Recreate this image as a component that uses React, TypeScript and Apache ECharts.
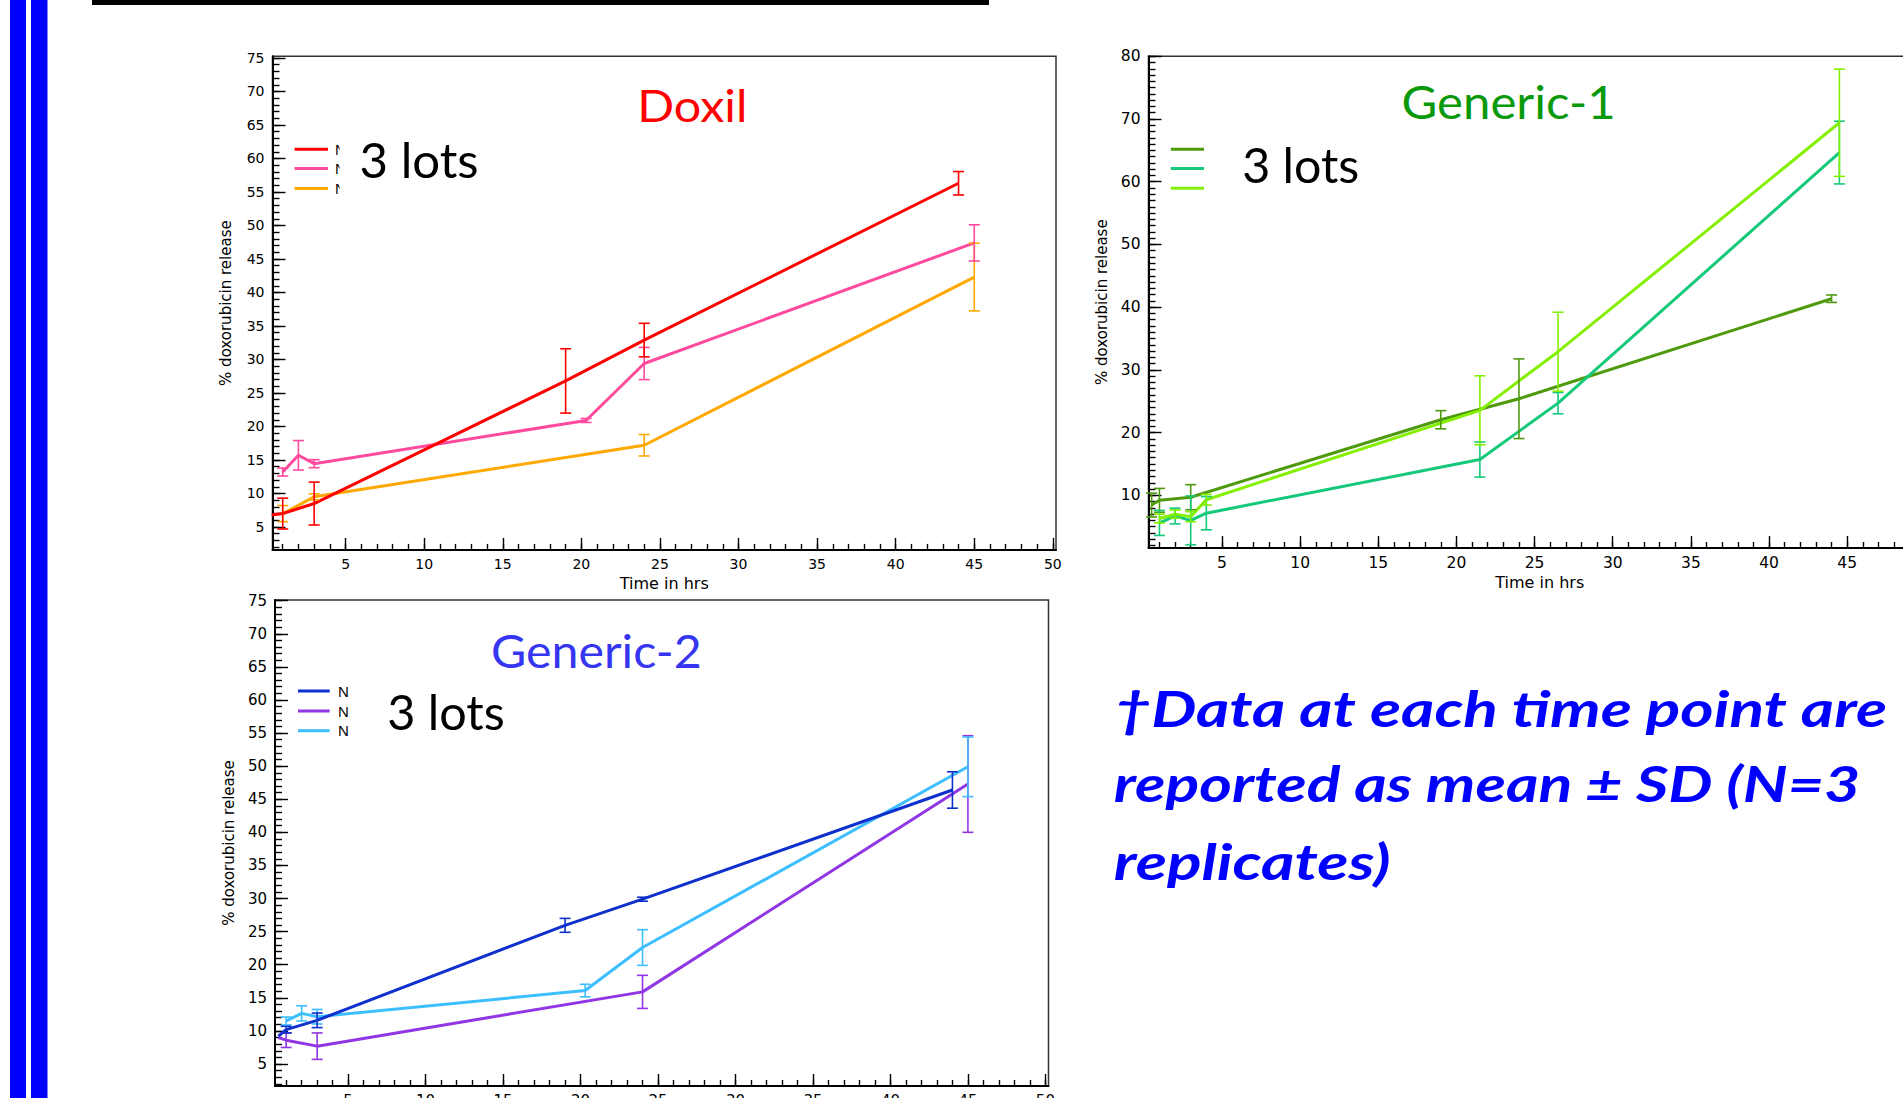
import React, { useEffect, useRef } from "react";
import * as echarts from "echarts";

// ---------------- Data (time in hrs, mean % release, SD) ----------------
// Doxil, 3 lots
const doxLot1T = [0.3, 1, 3, 19, 24, 44];
const doxLot1M = [6.8, 7.0, 8.5, 26.8, 32.9, 56.3];
const doxLot1SD = [0, 2.3, 3.2, 4.8, 2.5, 1.75];
const doxLot2T = [1, 2, 3, 20.3, 24, 45];
const doxLot2M = [13.2, 15.7, 14.45, 20.9, 29.4, 47.4];
const doxLot2SD = [0.6, 2.2, 0.6, 0.3, 2.4, 2.7];
const doxLot3T = [1, 3, 24, 45];
const doxLot3M = [7.0, 9.5, 17.2, 42.3];
const doxLot3SD = [1.2, 0.45, 1.6, 5.05];

// Generic-1, 3 lots
const g1Lot1T = [0.5, 1, 3, 19, 24, 44];
const g1Lot1M = [8.45, 9.2, 9.7, 22.05, 25.4, 41.35];
const g1Lot1SD = [1.9, 1.9, 2.0, 1.45, 6.35, 0.6];
const g1Lot2T = [1, 2, 3, 4, 21.5, 26.5, 44.5];
const g1Lot2M = [5.6, 6.7, 6.0, 7.15, 15.7, 24.7, 64.65];
const g1Lot2SD = [2.0, 1.25, 3.9, 2.65, 2.8, 1.7, 5.0];
const g1Lot3T = [1, 2, 3, 4, 21.5, 26.5, 44.5];
const g1Lot3M = [6.3, 7.0, 6.6, 9.3, 23.55, 32.9, 69.4];
const g1Lot3SD = [0.7, 0.65, 0.8, 0.85, 5.5, 6.3, 8.55];

// Generic-2, 3 lots
const g2Lot1T = [0.5, 1, 3, 19, 24, 44];
const g2Lot1M = [9.2, 10.2, 11.6, 25.95, 29.9, 46.4];
const g2Lot1SD = [0, 0.5, 1.1, 1.05, 0.3, 2.75];
const g2Lot2T = [0.5, 1, 3, 24, 45];
const g2Lot2M = [9.0, 8.6, 7.7, 15.9, 47.3];
const g2Lot2SD = [0, 1.1, 2.0, 2.5, 7.3];
const g2Lot3T = [1, 2, 3, 20.3, 24, 45];
const g2Lot3M = [11.5, 12.65, 12.15, 16.1, 22.6, 49.9];
const g2Lot3SD = [0.6, 1.15, 1.1, 0.95, 2.7, 4.5];

// Tick labels
const xTickLabels = [5, 10, 15, 20, 25, 30, 35, 40, 45, 50];
const doxYTickLabels = [5, 10, 15, 20, 25, 30, 35, 40, 45, 50, 55, 60, 65, 70, 75];
const g1YTickLabels = [10, 20, 30, 40, 50, 60, 70, 80];
const g2YTickLabels = [5, 10, 15, 20, 25, 30, 35, 40, 45, 50, 55, 60, 65, 70, 75];

// Texts
const titles = ["Doxil", "Generic-1", "Generic-2"];
const lotsText = "3 lots";
const xName = "Time in hrs";
const yName = "% doxorubicin release";
const legendStub = "N";
const noteLines = ["†Data at each time point are", "reported as mean ± SD (N=3", "replicates)"];

// ---------------- Styles ----------------
const AXIS_FONT = "'DejaVu Sans', sans-serif";
const C = {
  red: "#FF0000",
  pink: "#FF4A9E",
  orange: "#FFA800",
  dkGreen: "#4E9A0C",
  teal: "#14C97A",
  ltGreen: "#84F000",
  dkBlue: "#0E30CC",
  purple: "#9036E4",
  ltBlue: "#3CBEFF",
};

function intRange(a: number, b: number) {
  const r: number[] = [];
  for (let v = Math.ceil(a); v <= Math.floor(b); v++) r.push(v);
  return r;
}

function makeXAxes(gridIndex: number, min: number, max: number, labels: number[], fontSize: number, margin: number) {
  const tickStyle = { color: "#000", width: 1.4 };
  return [
    {
      type: "value", gridIndex, min, max, position: "bottom",
      axisLine: { show: true, onZero: false, lineStyle: { color: "#000", width: 2 } },
      axisTick: { show: true, inside: true, length: 6, customValues: intRange(min, max), lineStyle: tickStyle },
      axisLabel: { show: false }, splitLine: { show: false },
    },
    {
      type: "value", gridIndex, min, max, position: "bottom",
      axisLine: { show: false, onZero: false },
      axisTick: { show: true, inside: true, length: 12, customValues: labels, lineStyle: tickStyle },
      axisLabel: { show: true, customValues: labels, margin, fontSize, fontFamily: AXIS_FONT, color: "#000" },
      splitLine: { show: false },
      name: xName, nameLocation: "middle", nameGap: 26,
      nameTextStyle: { fontFamily: AXIS_FONT, fontSize: 16, color: "#000" },
    },
  ];
}

function makeYAxes(gridIndex: number, min: number, max: number, labels: number[], fontSize: number) {
  const tickStyle = { color: "#000", width: 1.4 };
  return [
    {
      type: "value", gridIndex, min, max, position: "left",
      axisLine: { show: true, onZero: false, lineStyle: { color: "#000", width: 2 } },
      axisTick: { show: true, inside: true, length: 7, customValues: intRange(min, max), lineStyle: tickStyle },
      axisLabel: { show: false }, splitLine: { show: false },
    },
    {
      type: "value", gridIndex, min, max, position: "left",
      axisLine: { show: false, onZero: false },
      axisTick: { show: true, inside: true, length: 13, customValues: labels, lineStyle: tickStyle },
      axisLabel: { show: true, customValues: labels, margin: 8, fontSize, fontFamily: AXIS_FONT, color: "#000" },
      splitLine: { show: false },
      name: yName, nameLocation: "middle", nameGap: 39,
      nameTextStyle: { fontFamily: AXIS_FONT, fontSize: 15, color: "#000" },
    },
  ];
}

function lineSeries(g: number, t: number[], m: number[], color: string) {
  return {
    type: "line", xAxisIndex: 2 * g, yAxisIndex: 2 * g,
    data: t.map((x, i) => [x, m[i]]),
    symbol: "none", silent: true, z: 3,
    lineStyle: { color, width: 3 }, itemStyle: { color },
  };
}

function errorSeries(g: number, t: number[], m: number[], sd: number[], color: string) {
  const data = t.map((x, i) => [x, m[i] - sd[i], m[i] + sd[i], sd[i]]).filter((d) => d[3] > 0);
  return {
    type: "custom", xAxisIndex: 2 * g, yAxisIndex: 2 * g, silent: true, z: 4,
    encode: { x: 0, y: [1, 2] },
    data,
    renderItem: (params: any, api: any) => {
      const x = api.value(0);
      const lo = api.coord([x, api.value(1)]);
      const hi = api.coord([x, api.value(2)]);
      const hw = 5.5;
      const st = { stroke: color, lineWidth: 1.6 };
      return {
        type: "group",
        children: [
          { type: "line", shape: { x1: hi[0], y1: hi[1], x2: lo[0], y2: lo[1] }, style: st },
          { type: "line", shape: { x1: hi[0] - hw, y1: hi[1], x2: hi[0] + hw, y2: hi[1] }, style: st },
          { type: "line", shape: { x1: lo[0] - hw, y1: lo[1], x2: lo[0] + hw, y2: lo[1] }, style: st },
        ],
      };
    },
  };
}

let measureCtx: CanvasRenderingContext2D | null = null;
function fitLeft(text: string, font: string, inkLeft: number, inkWidth: number) {
  try {
    if (!measureCtx) measureCtx = document.createElement("canvas").getContext("2d");
    if (measureCtx) {
      measureCtx.font = font;
      const mt = measureCtx.measureText(text);
      const l = mt.actualBoundingBoxLeft || 0;
      const w = (mt.actualBoundingBoxRight || mt.width) + l;
      if (w > 0) {
        const s = inkWidth / w;
        return { x: inkLeft + s * l, scaleX: s };
      }
    }
  } catch (e) {}
  return { x: inkLeft, scaleX: 1 };
}

function textEl(text: string, font: string, inkLeft: number, inkWidth: number, y: number, fill: string) {
  const f = fitLeft(text, font, inkLeft, inkWidth);
  return {
    type: "text", x: f.x, y, scaleX: f.scaleX, z: 10,
    style: { text, font, fill, align: "left", verticalAlign: "middle", textAlign: "left", textVerticalAlign: "middle" },
  };
}

function legendLines(x1: number, x2: number, ys: number[], colors: string[]) {
  return ys.map((y, i) => ({
    type: "line", z: 10,
    shape: { x1, y1: y, x2, y2: y },
    style: { stroke: colors[i], lineWidth: 3 },
  }));
}

function stubText(x: number, y: number, z: number) {
  return {
    type: "text", x, y, z,
    style: { text: legendStub, font: "15px 'Liberation Sans'", fill: "#000", align: "left", verticalAlign: "middle", textAlign: "left", textVerticalAlign: "middle" },
  };
}

function buildOption() {
  const grids = [
    { left: 272.5, top: 56.3, width: 1056 - 272.5, height: 549.9 - 56.3 },
    { left: 1148.5, top: 56.3, width: 1931 - 1148.5, height: 548 - 56.3 },
    { left: 275, top: 600, width: 1048.5 - 275, height: 1086 - 600 },
  ].map((g) => ({
    ...g, show: true, borderColor: "#333", borderWidth: 1.5, backgroundColor: "transparent",
    containLabel: false, outerBoundsMode: "none",
  }));

  const xAxis = [
    ...makeXAxes(0, 0.35, 50.2, xTickLabels, 14, 7.5),
    ...makeXAxes(1, 0.3, 50.36, xTickLabels, 15.5, 7),
    ...makeXAxes(2, 0.28, 50.2, xTickLabels, 15, 7),
  ];
  const yAxis = [
    ...makeYAxes(0, 1.58, 75.25, doxYTickLabels, 14),
    ...makeYAxes(1, 1.6, 80.0, g1YTickLabels, 15.5),
    ...makeYAxes(2, 1.68, 75.1, g2YTickLabels, 15),
  ];

  const series = [
    lineSeries(0, doxLot3T, doxLot3M, C.orange),
    lineSeries(0, doxLot2T, doxLot2M, C.pink),
    lineSeries(0, doxLot1T, doxLot1M, C.red),
    errorSeries(0, doxLot3T, doxLot3M, doxLot3SD, C.orange),
    errorSeries(0, doxLot2T, doxLot2M, doxLot2SD, C.pink),
    errorSeries(0, doxLot1T, doxLot1M, doxLot1SD, C.red),

    lineSeries(1, g1Lot1T, g1Lot1M, C.dkGreen),
    lineSeries(1, g1Lot2T, g1Lot2M, C.teal),
    lineSeries(1, g1Lot3T, g1Lot3M, C.ltGreen),
    errorSeries(1, g1Lot1T, g1Lot1M, g1Lot1SD, C.dkGreen),
    errorSeries(1, g1Lot2T, g1Lot2M, g1Lot2SD, C.teal),
    errorSeries(1, g1Lot3T, g1Lot3M, g1Lot3SD, C.ltGreen),

    lineSeries(2, g2Lot2T, g2Lot2M, C.purple),
    lineSeries(2, g2Lot3T, g2Lot3M, C.ltBlue),
    lineSeries(2, g2Lot1T, g2Lot1M, C.dkBlue),
    errorSeries(2, g2Lot2T, g2Lot2M, g2Lot2SD, C.purple),
    errorSeries(2, g2Lot3T, g2Lot3M, g2Lot3SD, C.ltBlue),
    errorSeries(2, g2Lot1T, g2Lot1M, g2Lot1SD, C.dkBlue),
  ];

  const titleFont = "45px Lato";
  const titleFont2 = "46px Lato";
  const lotsFont = "48px Lato";
  const noteFont = "italic bold 50px Lato";

  const graphic: any[] = [
    { type: "rect", z: 20, shape: { x: 10, y: 0, width: 16, height: 1098 }, style: { fill: "#0000FF" } },
    { type: "rect", z: 20, shape: { x: 31, y: 0, width: 16.5, height: 1098 }, style: { fill: "#0000FF" } },
    { type: "rect", z: 20, shape: { x: 92, y: 0, width: 897, height: 5 }, style: { fill: "#000" } },

    textEl(titles[0], titleFont, 641.5, 103.2, 105.1, "#FF0000"),
    textEl(titles[1], titleFont2, 1403.6, 209.4, 100.8, "#0A990A"),
    textEl(titles[2], titleFont2, 493.2, 206.9, 649.5, "#3535F2"),

    // Doxil legend: lot names hidden behind the "3 lots" box, only a sliver shows
    ...legendLines(294.6, 328, [149.2, 168.4, 188.6], [C.red, C.pink, C.orange]),
    stubText(335, 149.2, 9),
    stubText(335, 168.4, 9),
    stubText(335, 188.6, 9),
    { type: "rect", z: 9.5, shape: { x: 339.5, y: 138, width: 150, height: 60 }, style: { fill: "#fff" } },
    textEl(lotsText, lotsFont, 361.6, 115.2, 159.4, "#000"),

    ...legendLines(1170.8, 1204, [149.2, 168.4, 188.3], [C.dkGreen, C.teal, C.ltGreen]),
    textEl(lotsText, lotsFont, 1244.2, 113.2, 164.4, "#000"),

    ...legendLines(298, 329.7, [691, 711, 730.7], [C.dkBlue, C.purple, C.ltBlue]),
    stubText(338, 691, 10),
    stubText(338, 711, 10),
    stubText(338, 730.7, 10),
    textEl(lotsText, lotsFont, 389.3, 113.7, 711.4, "#000"),

    textEl(noteLines[0], noteFont, 1118, 768, 707.2, "#0000FF"),
    textEl(noteLines[1], noteFont, 1115, 743, 782.7, "#0000FF"),
    textEl(noteLines[2], noteFont, 1115, 274, 860.7, "#0000FF"),
  ];

  return {
    animation: false,
    backgroundColor: "#fff",
    grid: grids,
    xAxis,
    yAxis,
    series,
    graphic,
  };
}

export default function App() {
  const ref = useRef<HTMLDivElement>(null);
  useEffect(() => {
    if (!ref.current) return;
    const chart = echarts.init(ref.current, null, { renderer: "svg", width: 1960, height: 1140 });
    chart.setOption(buildOption() as any);
    return () => chart.dispose();
  }, []);
  return (
    <div style={{ position: "fixed", left: 0, top: 0, width: 1903, height: 1098, overflow: "hidden", background: "#fff" }}>
      <div ref={ref} style={{ position: "absolute", left: 0, top: 0, width: 1960, height: 1140 }} />
    </div>
  );
}
